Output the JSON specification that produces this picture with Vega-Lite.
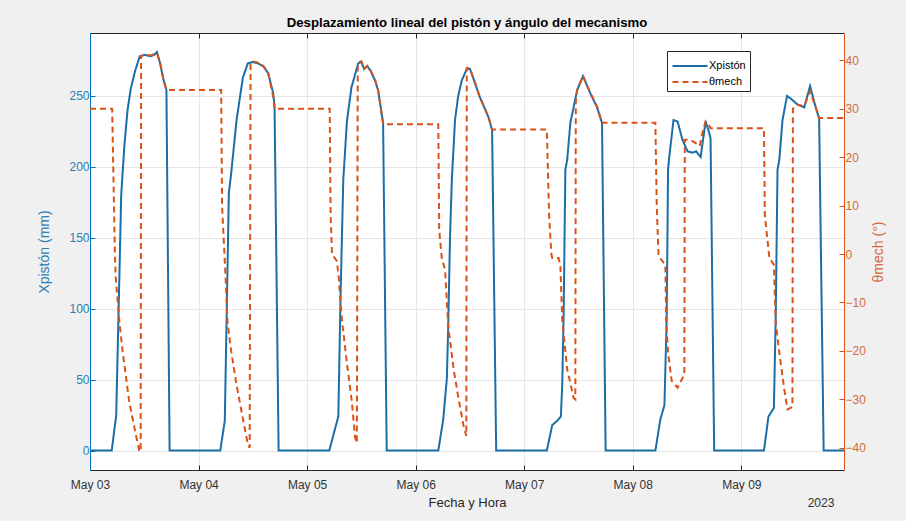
{
  "$schema": "https://vega.github.io/schema/vega-lite/v6.json",
  "width": 754,
  "height": 437,
  "autosize": {"type": "none"},
  "padding": {"left": 90, "top": 33, "right": 62, "bottom": 51},
  "background": "#f0f0f0",
  "view": {"fill": "white", "stroke": null},
  "config": {
    "font": "Liberation Sans",
    "axis": {"labelFont": "Liberation Sans", "titleFont": "Liberation Sans", "titleFontWeight": "normal"}
  },
  "title": {
    "text": "Desplazamiento lineal del pistón y ángulo del mecanismo",
    "font": "Liberation Sans",
    "fontSize": 13.2,
    "fontWeight": "bold",
    "color": "#000000",
    "offset": 2,
    "anchor": "middle"
  },
  "datasets": {
    "piston": [
      {"t": "2023-05-03T00:00", "serie": "Xpistón", "v": 0},
      {"t": "2023-05-03T04:48", "serie": "Xpistón", "v": 0},
      {"t": "2023-05-03T05:48", "serie": "Xpistón", "v": 25},
      {"t": "2023-05-03T06:54", "serie": "Xpistón", "v": 180},
      {"t": "2023-05-03T07:36", "serie": "Xpistón", "v": 215},
      {"t": "2023-05-03T08:18", "serie": "Xpistón", "v": 240},
      {"t": "2023-05-03T09:00", "serie": "Xpistón", "v": 255},
      {"t": "2023-05-03T10:00", "serie": "Xpistón", "v": 268},
      {"t": "2023-05-03T11:00", "serie": "Xpistón", "v": 278},
      {"t": "2023-05-03T12:00", "serie": "Xpistón", "v": 279},
      {"t": "2023-05-03T13:24", "serie": "Xpistón", "v": 278},
      {"t": "2023-05-03T14:12", "serie": "Xpistón", "v": 279},
      {"t": "2023-05-03T14:48", "serie": "Xpistón", "v": 281},
      {"t": "2023-05-03T15:30", "serie": "Xpistón", "v": 273},
      {"t": "2023-05-03T16:12", "serie": "Xpistón", "v": 262},
      {"t": "2023-05-03T16:54", "serie": "Xpistón", "v": 254},
      {"t": "2023-05-03T17:36", "serie": "Xpistón", "v": 0},
      {"t": "2023-05-04T04:48", "serie": "Xpistón", "v": 0},
      {"t": "2023-05-04T05:48", "serie": "Xpistón", "v": 21},
      {"t": "2023-05-04T06:42", "serie": "Xpistón", "v": 182},
      {"t": "2023-05-04T07:12", "serie": "Xpistón", "v": 195},
      {"t": "2023-05-04T08:24", "serie": "Xpistón", "v": 233},
      {"t": "2023-05-04T09:48", "serie": "Xpistón", "v": 263},
      {"t": "2023-05-04T10:54", "serie": "Xpistón", "v": 273},
      {"t": "2023-05-04T12:00", "serie": "Xpistón", "v": 274},
      {"t": "2023-05-04T13:06", "serie": "Xpistón", "v": 273},
      {"t": "2023-05-04T14:18", "serie": "Xpistón", "v": 271},
      {"t": "2023-05-04T15:24", "serie": "Xpistón", "v": 266},
      {"t": "2023-05-04T16:30", "serie": "Xpistón", "v": 252},
      {"t": "2023-05-04T16:48", "serie": "Xpistón", "v": 243},
      {"t": "2023-05-04T17:42", "serie": "Xpistón", "v": 0},
      {"t": "2023-05-05T04:54", "serie": "Xpistón", "v": 0},
      {"t": "2023-05-05T06:54", "serie": "Xpistón", "v": 24},
      {"t": "2023-05-05T07:24", "serie": "Xpistón", "v": 110},
      {"t": "2023-05-05T08:00", "serie": "Xpistón", "v": 191},
      {"t": "2023-05-05T08:48", "serie": "Xpistón", "v": 232},
      {"t": "2023-05-05T09:48", "serie": "Xpistón", "v": 256},
      {"t": "2023-05-05T11:18", "serie": "Xpistón", "v": 273},
      {"t": "2023-05-05T12:00", "serie": "Xpistón", "v": 274},
      {"t": "2023-05-05T12:36", "serie": "Xpistón", "v": 269},
      {"t": "2023-05-05T13:18", "serie": "Xpistón", "v": 271},
      {"t": "2023-05-05T14:00", "serie": "Xpistón", "v": 268},
      {"t": "2023-05-05T15:00", "serie": "Xpistón", "v": 261},
      {"t": "2023-05-05T15:42", "serie": "Xpistón", "v": 254},
      {"t": "2023-05-05T16:48", "serie": "Xpistón", "v": 231},
      {"t": "2023-05-05T17:36", "serie": "Xpistón", "v": 0},
      {"t": "2023-05-06T05:00", "serie": "Xpistón", "v": 0},
      {"t": "2023-05-06T06:06", "serie": "Xpistón", "v": 22},
      {"t": "2023-05-06T06:54", "serie": "Xpistón", "v": 51},
      {"t": "2023-05-06T07:12", "serie": "Xpistón", "v": 88},
      {"t": "2023-05-06T07:36", "serie": "Xpistón", "v": 151},
      {"t": "2023-05-06T08:00", "serie": "Xpistón", "v": 191},
      {"t": "2023-05-06T08:42", "serie": "Xpistón", "v": 233},
      {"t": "2023-05-06T09:24", "serie": "Xpistón", "v": 250},
      {"t": "2023-05-06T10:12", "serie": "Xpistón", "v": 261},
      {"t": "2023-05-06T11:18", "serie": "Xpistón", "v": 269},
      {"t": "2023-05-06T12:00", "serie": "Xpistón", "v": 269},
      {"t": "2023-05-06T12:48", "serie": "Xpistón", "v": 262},
      {"t": "2023-05-06T14:12", "serie": "Xpistón", "v": 249},
      {"t": "2023-05-06T15:18", "serie": "Xpistón", "v": 241},
      {"t": "2023-05-06T16:06", "serie": "Xpistón", "v": 235},
      {"t": "2023-05-06T16:54", "serie": "Xpistón", "v": 226},
      {"t": "2023-05-06T17:48", "serie": "Xpistón", "v": 0},
      {"t": "2023-05-07T05:00", "serie": "Xpistón", "v": 0},
      {"t": "2023-05-07T06:12", "serie": "Xpistón", "v": 18},
      {"t": "2023-05-07T07:18", "serie": "Xpistón", "v": 21},
      {"t": "2023-05-07T08:06", "serie": "Xpistón", "v": 24},
      {"t": "2023-05-07T08:24", "serie": "Xpistón", "v": 46},
      {"t": "2023-05-07T08:42", "serie": "Xpistón", "v": 93},
      {"t": "2023-05-07T09:06", "serie": "Xpistón", "v": 198},
      {"t": "2023-05-07T09:30", "serie": "Xpistón", "v": 205},
      {"t": "2023-05-07T10:12", "serie": "Xpistón", "v": 231},
      {"t": "2023-05-07T11:42", "serie": "Xpistón", "v": 254},
      {"t": "2023-05-07T13:00", "serie": "Xpistón", "v": 264},
      {"t": "2023-05-07T14:36", "serie": "Xpistón", "v": 252},
      {"t": "2023-05-07T16:06", "serie": "Xpistón", "v": 242},
      {"t": "2023-05-07T17:12", "serie": "Xpistón", "v": 231},
      {"t": "2023-05-07T18:00", "serie": "Xpistón", "v": 0},
      {"t": "2023-05-08T05:00", "serie": "Xpistón", "v": 0},
      {"t": "2023-05-08T06:06", "serie": "Xpistón", "v": 22},
      {"t": "2023-05-08T07:00", "serie": "Xpistón", "v": 32},
      {"t": "2023-05-08T07:30", "serie": "Xpistón", "v": 93},
      {"t": "2023-05-08T07:48", "serie": "Xpistón", "v": 198},
      {"t": "2023-05-08T08:00", "serie": "Xpistón", "v": 205},
      {"t": "2023-05-08T09:00", "serie": "Xpistón", "v": 233},
      {"t": "2023-05-08T09:54", "serie": "Xpistón", "v": 232},
      {"t": "2023-05-08T11:00", "serie": "Xpistón", "v": 219},
      {"t": "2023-05-08T12:06", "serie": "Xpistón", "v": 211},
      {"t": "2023-05-08T13:12", "serie": "Xpistón", "v": 210},
      {"t": "2023-05-08T14:00", "serie": "Xpistón", "v": 211},
      {"t": "2023-05-08T15:00", "serie": "Xpistón", "v": 207},
      {"t": "2023-05-08T16:06", "serie": "Xpistón", "v": 232},
      {"t": "2023-05-08T16:54", "serie": "Xpistón", "v": 224},
      {"t": "2023-05-08T17:12", "serie": "Xpistón", "v": 220},
      {"t": "2023-05-08T18:00", "serie": "Xpistón", "v": 0},
      {"t": "2023-05-09T05:00", "serie": "Xpistón", "v": 0},
      {"t": "2023-05-09T06:00", "serie": "Xpistón", "v": 24},
      {"t": "2023-05-09T07:12", "serie": "Xpistón", "v": 30},
      {"t": "2023-05-09T07:36", "serie": "Xpistón", "v": 93},
      {"t": "2023-05-09T08:00", "serie": "Xpistón", "v": 198},
      {"t": "2023-05-09T08:24", "serie": "Xpistón", "v": 205},
      {"t": "2023-05-09T09:06", "serie": "Xpistón", "v": 233},
      {"t": "2023-05-09T10:06", "serie": "Xpistón", "v": 250},
      {"t": "2023-05-09T11:00", "serie": "Xpistón", "v": 248},
      {"t": "2023-05-09T12:24", "serie": "Xpistón", "v": 244},
      {"t": "2023-05-09T13:54", "serie": "Xpistón", "v": 242},
      {"t": "2023-05-09T15:12", "serie": "Xpistón", "v": 257},
      {"t": "2023-05-09T16:06", "serie": "Xpistón", "v": 246},
      {"t": "2023-05-09T17:12", "serie": "Xpistón", "v": 234},
      {"t": "2023-05-09T18:12", "serie": "Xpistón", "v": 0},
      {"t": "2023-05-09T22:42", "serie": "Xpistón", "v": 0}
    ],
    "theta": [
      {"t": "2023-05-03T00:00", "serie": "θmech", "v": 30.0},
      {"t": "2023-05-03T04:54", "serie": "θmech", "v": 30.0},
      {"t": "2023-05-03T05:18", "serie": "θmech", "v": 10},
      {"t": "2023-05-03T05:30", "serie": "θmech", "v": 0},
      {"t": "2023-05-03T05:42", "serie": "θmech", "v": -5},
      {"t": "2023-05-03T06:30", "serie": "θmech", "v": -14},
      {"t": "2023-05-03T07:12", "serie": "θmech", "v": -20},
      {"t": "2023-05-03T08:42", "serie": "θmech", "v": -30.7},
      {"t": "2023-05-03T10:12", "serie": "θmech", "v": -37.6},
      {"t": "2023-05-03T10:54", "serie": "θmech", "v": -40.5},
      {"t": "2023-05-03T11:12", "serie": "θmech", "v": -40.8},
      {"t": "2023-05-03T11:18", "serie": "θmech", "v": 40.8},
      {"t": "2023-05-03T12:00", "serie": "θmech", "v": 41.2},
      {"t": "2023-05-03T13:24", "serie": "θmech", "v": 41.0},
      {"t": "2023-05-03T14:48", "serie": "θmech", "v": 41.5},
      {"t": "2023-05-03T15:30", "serie": "θmech", "v": 39.5},
      {"t": "2023-05-03T16:12", "serie": "θmech", "v": 36.3},
      {"t": "2023-05-03T16:54", "serie": "θmech", "v": 33.9},
      {"t": "2023-05-04T05:00", "serie": "θmech", "v": 33.9},
      {"t": "2023-05-04T05:12", "serie": "θmech", "v": 10},
      {"t": "2023-05-04T05:36", "serie": "θmech", "v": 2.4},
      {"t": "2023-05-04T06:00", "serie": "θmech", "v": -5.3},
      {"t": "2023-05-04T06:24", "serie": "θmech", "v": -14},
      {"t": "2023-05-04T07:12", "serie": "θmech", "v": -20},
      {"t": "2023-05-04T08:24", "serie": "θmech", "v": -27},
      {"t": "2023-05-04T09:48", "serie": "θmech", "v": -34},
      {"t": "2023-05-04T10:54", "serie": "θmech", "v": -39.3},
      {"t": "2023-05-04T11:18", "serie": "θmech", "v": -40},
      {"t": "2023-05-04T11:30", "serie": "θmech", "v": 39.5},
      {"t": "2023-05-04T12:00", "serie": "θmech", "v": 39.8},
      {"t": "2023-05-04T13:06", "serie": "θmech", "v": 39.5},
      {"t": "2023-05-04T14:18", "serie": "θmech", "v": 38.9},
      {"t": "2023-05-04T15:24", "serie": "θmech", "v": 37.4},
      {"t": "2023-05-04T16:30", "serie": "θmech", "v": 32.5},
      {"t": "2023-05-04T16:48", "serie": "θmech", "v": 30.0},
      {"t": "2023-05-05T05:00", "serie": "θmech", "v": 30.0},
      {"t": "2023-05-05T05:12", "serie": "θmech", "v": 8},
      {"t": "2023-05-05T05:30", "serie": "θmech", "v": 0},
      {"t": "2023-05-05T06:36", "serie": "θmech", "v": -1.5},
      {"t": "2023-05-05T07:00", "serie": "θmech", "v": -5},
      {"t": "2023-05-05T07:24", "serie": "θmech", "v": -10},
      {"t": "2023-05-05T07:42", "serie": "θmech", "v": -13.6},
      {"t": "2023-05-05T08:48", "serie": "θmech", "v": -22.5},
      {"t": "2023-05-05T09:54", "serie": "θmech", "v": -30.6},
      {"t": "2023-05-05T10:36", "serie": "θmech", "v": -37.9},
      {"t": "2023-05-05T11:00", "serie": "θmech", "v": -39},
      {"t": "2023-05-05T11:12", "serie": "θmech", "v": 39.5},
      {"t": "2023-05-05T12:00", "serie": "θmech", "v": 39.8},
      {"t": "2023-05-05T12:36", "serie": "θmech", "v": 38.3},
      {"t": "2023-05-05T13:18", "serie": "θmech", "v": 38.9},
      {"t": "2023-05-05T14:00", "serie": "θmech", "v": 38.0},
      {"t": "2023-05-05T15:00", "serie": "θmech", "v": 36.0},
      {"t": "2023-05-05T15:42", "serie": "θmech", "v": 33.9},
      {"t": "2023-05-05T16:48", "serie": "θmech", "v": 26.8},
      {"t": "2023-05-06T05:00", "serie": "θmech", "v": 26.8},
      {"t": "2023-05-06T05:12", "serie": "θmech", "v": 5},
      {"t": "2023-05-06T05:48", "serie": "θmech", "v": -1.1},
      {"t": "2023-05-06T06:30", "serie": "θmech", "v": -3.2},
      {"t": "2023-05-06T07:12", "serie": "θmech", "v": -14.9},
      {"t": "2023-05-06T08:24", "serie": "θmech", "v": -23.8},
      {"t": "2023-05-06T09:30", "serie": "θmech", "v": -30},
      {"t": "2023-05-06T10:36", "serie": "θmech", "v": -35.5},
      {"t": "2023-05-06T11:12", "serie": "θmech", "v": -37.6},
      {"t": "2023-05-06T11:18", "serie": "θmech", "v": 38.4},
      {"t": "2023-05-06T12:00", "serie": "θmech", "v": 38.4},
      {"t": "2023-05-06T12:48", "serie": "θmech", "v": 36.3},
      {"t": "2023-05-06T14:12", "serie": "θmech", "v": 32.4},
      {"t": "2023-05-06T15:18", "serie": "θmech", "v": 30.1},
      {"t": "2023-05-06T16:06", "serie": "θmech", "v": 28.3},
      {"t": "2023-05-06T16:54", "serie": "θmech", "v": 25.7},
      {"t": "2023-05-07T05:00", "serie": "θmech", "v": 25.7},
      {"t": "2023-05-07T05:30", "serie": "θmech", "v": 8},
      {"t": "2023-05-07T06:00", "serie": "θmech", "v": 0},
      {"t": "2023-05-07T06:12", "serie": "θmech", "v": -0.8},
      {"t": "2023-05-07T07:36", "serie": "θmech", "v": -0.8},
      {"t": "2023-05-07T08:00", "serie": "θmech", "v": -2.5},
      {"t": "2023-05-07T08:24", "serie": "θmech", "v": -13.5},
      {"t": "2023-05-07T09:30", "serie": "θmech", "v": -23.8},
      {"t": "2023-05-07T10:12", "serie": "θmech", "v": -26.6},
      {"t": "2023-05-07T10:54", "serie": "θmech", "v": -29.7},
      {"t": "2023-05-07T11:18", "serie": "θmech", "v": -30},
      {"t": "2023-05-07T11:24", "serie": "θmech", "v": 31.3},
      {"t": "2023-05-07T11:42", "serie": "θmech", "v": 33.9},
      {"t": "2023-05-07T13:00", "serie": "θmech", "v": 36.8},
      {"t": "2023-05-07T14:36", "serie": "θmech", "v": 33.3},
      {"t": "2023-05-07T16:06", "serie": "θmech", "v": 30.5},
      {"t": "2023-05-07T17:12", "serie": "θmech", "v": 27.1},
      {"t": "2023-05-08T05:00", "serie": "θmech", "v": 27.1},
      {"t": "2023-05-08T05:18", "serie": "θmech", "v": 10},
      {"t": "2023-05-08T05:42", "serie": "θmech", "v": -0.4},
      {"t": "2023-05-08T07:12", "serie": "θmech", "v": -2.2},
      {"t": "2023-05-08T07:24", "serie": "θmech", "v": -14.1},
      {"t": "2023-05-08T07:48", "serie": "θmech", "v": -20.4},
      {"t": "2023-05-08T08:36", "serie": "θmech", "v": -26.2},
      {"t": "2023-05-08T09:54", "serie": "θmech", "v": -27.6},
      {"t": "2023-05-08T11:00", "serie": "θmech", "v": -25.6},
      {"t": "2023-05-08T11:24", "serie": "θmech", "v": -25},
      {"t": "2023-05-08T11:30", "serie": "θmech", "v": 23.6},
      {"t": "2023-05-08T12:06", "serie": "θmech", "v": 23.6},
      {"t": "2023-05-08T13:12", "serie": "θmech", "v": 23.3},
      {"t": "2023-05-08T14:06", "serie": "θmech", "v": 22.8},
      {"t": "2023-05-08T14:48", "serie": "θmech", "v": 22.3},
      {"t": "2023-05-08T15:24", "serie": "θmech", "v": 25},
      {"t": "2023-05-08T16:06", "serie": "θmech", "v": 27.4},
      {"t": "2023-05-08T16:54", "serie": "θmech", "v": 26.5},
      {"t": "2023-05-08T17:12", "serie": "θmech", "v": 26.0},
      {"t": "2023-05-09T05:00", "serie": "θmech", "v": 26.0},
      {"t": "2023-05-09T05:12", "serie": "θmech", "v": 8},
      {"t": "2023-05-09T06:12", "serie": "θmech", "v": -0.8},
      {"t": "2023-05-09T07:12", "serie": "θmech", "v": -2.2},
      {"t": "2023-05-09T07:36", "serie": "θmech", "v": -14},
      {"t": "2023-05-09T08:24", "serie": "θmech", "v": -20.4},
      {"t": "2023-05-09T09:30", "serie": "θmech", "v": -28},
      {"t": "2023-05-09T10:12", "serie": "θmech", "v": -32.1},
      {"t": "2023-05-09T11:00", "serie": "θmech", "v": -31.7},
      {"t": "2023-05-09T11:18", "serie": "θmech", "v": -31.5},
      {"t": "2023-05-09T11:24", "serie": "θmech", "v": 30.0},
      {"t": "2023-05-09T12:24", "serie": "θmech", "v": 30.9},
      {"t": "2023-05-09T13:54", "serie": "θmech", "v": 30.5},
      {"t": "2023-05-09T15:12", "serie": "θmech", "v": 33.6},
      {"t": "2023-05-09T16:06", "serie": "θmech", "v": 31.2},
      {"t": "2023-05-09T17:12", "serie": "θmech", "v": 28.1},
      {"t": "2023-05-09T22:42", "serie": "θmech", "v": 28.1}
    ]
  },
  "layer": [
    {
      "data": {"name": "piston"},
      "mark": {"type": "line", "strokeWidth": 2, "clip": true},
      "encoding": {
        "x": {
          "field": "t", "type": "temporal",
          "scale": {"domain": [{"year": 2023, "month": 5, "date": 3, "hours": 0}, {"year": 2023, "month": 5, "date": 9, "hours": 22, "minutes": 42}]},
          "axis": {
            "orient": "bottom",
            "values": [
              {"year": 2023, "month": 5, "date": 3}, {"year": 2023, "month": 5, "date": 4},
              {"year": 2023, "month": 5, "date": 5}, {"year": 2023, "month": 5, "date": 6},
              {"year": 2023, "month": 5, "date": 7}, {"year": 2023, "month": 5, "date": 8},
              {"year": 2023, "month": 5, "date": 9}
            ],
            "format": "%b %d",
            "labelFontSize": 12,
            "labelColor": "#333333",
            "labelPadding": 14,
            "labelFlush": false,
            "tickSize": -5,
            "tickColor": "#262626",
            "domainColor": "#262626",
            "grid": true,
            "gridColor": "#e6e6e6",
            "title": "Fecha y Hora",
            "titleFontSize": 13,
            "titleColor": "#262626",
            "titlePadding": 6
          }
        },
        "y": {
          "field": "v", "type": "quantitative",
          "scale": {"domain": [-13.7, 294.4], "nice": false, "zero": false},
          "axis": {
            "orient": "left",
            "values": [0, 50, 100, 150, 200, 250],
            "labelFontSize": 12,
            "labelColor": "#2a7db5",
            "labelPadding": 6,
            "tickSize": -5,
            "tickColor": "#0072BD",
            "domainColor": "#0072BD",
            "grid": true,
            "gridColor": "#e6e6e6",
            "title": "Xpistón (mm)",
            "titleFontSize": 14,
            "titleColor": "#2a7db5",
            "titlePadding": 17
          }
        },
        "color": {
          "field": "serie", "type": "nominal",
          "scale": {"domain": ["Xpistón", "θmech"], "range": ["#1a6fa8", "#D95319"]},
          "legend": {
            "title": null,
            "orient": "none",
            "legendX": 577,
            "legendY": 18,
            "fillColor": "white",
            "strokeColor": "#262626",
            "padding": 4,
            "labelFontSize": 11,
            "labelColor": "#000000",
            "symbolType": "M-1.75,0H1.75",
            "symbolSize": 400,
            "symbolOffset": 8,
            "symbolStrokeWidth": 2,
            "labelOffset": 8,
            "rowPadding": 0
          }
        },
        "strokeDash": {
          "field": "serie", "type": "nominal",
          "scale": {"domain": ["Xpistón", "θmech"], "range": [[1, 0], [6, 4]]},
          "legend": {
            "title": null,
            "orient": "none",
            "legendX": 577,
            "legendY": 18,
            "fillColor": "white",
            "strokeColor": "#262626",
            "padding": 4,
            "labelFontSize": 11,
            "labelColor": "#000000",
            "symbolType": "M-1.75,0H1.75",
            "symbolSize": 400,
            "symbolOffset": 8,
            "symbolStrokeWidth": 2,
            "labelOffset": 8,
            "rowPadding": 0
          }
        }
      }
    },
    {
      "data": {"name": "theta"},
      "mark": {"type": "line", "strokeWidth": 2, "clip": true},
      "encoding": {
        "x": {
          "field": "t", "type": "temporal",
          "scale": {"domain": [{"year": 2023, "month": 5, "date": 3, "hours": 0}, {"year": 2023, "month": 5, "date": 9, "hours": 22, "minutes": 42}]},
          "axis": {
            "orient": "top",
            "values": [
              {"year": 2023, "month": 5, "date": 3}, {"year": 2023, "month": 5, "date": 4},
              {"year": 2023, "month": 5, "date": 5}, {"year": 2023, "month": 5, "date": 6},
              {"year": 2023, "month": 5, "date": 7}, {"year": 2023, "month": 5, "date": 8},
              {"year": 2023, "month": 5, "date": 9}
            ],
            "labels": false,
            "tickSize": -5,
            "tickColor": "#262626",
            "domainColor": "#262626",
            "grid": false,
            "title": null
          }
        },
        "y": {
          "field": "v", "type": "quantitative",
          "scale": {"domain": [-44.6, 45.65], "nice": false, "zero": false},
          "axis": {
            "orient": "right",
            "values": [-40, -30, -20, -10, 0, 10, 20, 30, 40],
            "labelFontSize": 12,
            "labelColor": "#d46a3a",
            "labelPadding": 6,
            "tickSize": -5,
            "tickColor": "#D95319",
            "domainColor": "#D95319",
            "grid": false,
            "title": "θmech (°)",
            "titleAngle": 270,
            "titleFontSize": 14,
            "titleColor": "#d46a3a",
            "titlePadding": 20
          }
        },
        "color": {"field": "serie", "type": "nominal", "scale": {"domain": ["Xpistón", "θmech"], "range": ["#1a6fa8", "#D95319"]}},
        "strokeDash": {"field": "serie", "type": "nominal", "scale": {"domain": ["Xpistón", "θmech"], "range": [[1, 0], [6, 4]]}}
      }
    },
    {
      "data": {"name": "piston"},
      "mark": {"type": "line", "opacity": 0},
      "encoding": {
        "x": {
          "field": "t", "type": "temporal",
          "scale": {"domain": [{"year": 2023, "month": 5, "date": 3, "hours": 0}, {"year": 2023, "month": 5, "date": 9, "hours": 22, "minutes": 42}]},
          "axis": {
            "orient": "bottom",
            "values": [{"year": 2023, "month": 5, "date": 9, "hours": 17, "minutes": 30}],
            "format": "%Y",
            "labelFontSize": 12,
            "labelColor": "#333333",
            "labelPadding": 27,
            "ticks": false,
            "domain": false,
            "grid": false,
            "title": null
          }
        },
        "y": {"field": "v", "type": "quantitative", "axis": null}
      }
    }
  ],
  "resolve": {
    "scale": {"y": "independent"},
    "axis": {"x": "independent", "y": "independent"}
  }
}
